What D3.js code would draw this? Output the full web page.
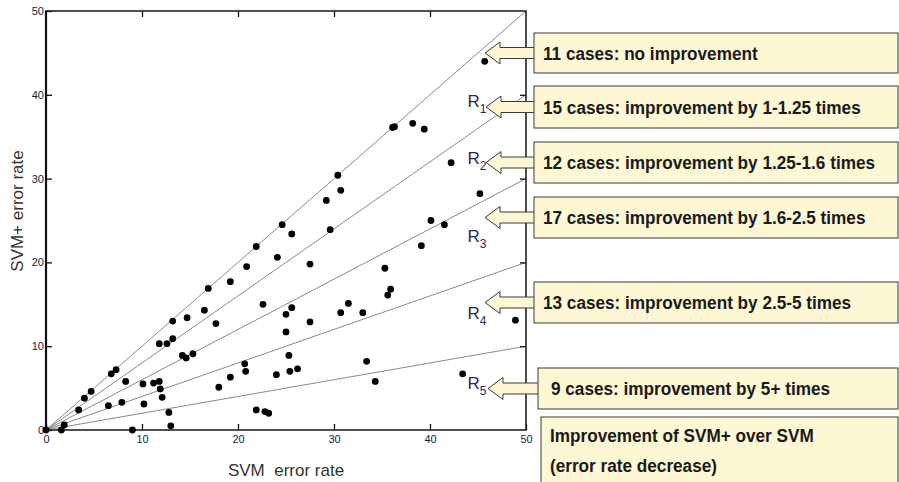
<!DOCTYPE html>
<html>
<head>
<meta charset="utf-8">
<script src="https://cdn.jsdelivr.net/npm/d3@7"></script>
<style>
  body { margin: 0; background: #fff; }
  svg { display: block; }
</style>
</head>
<body>
<div id="chart-area"></div>
<script>
// error rates per data set (SVM on x, SVM+ on y)
const svmErr = [0, 1.6, 1.9, 3.4, 4.0, 4.7, 6.5, 6.8, 7.3, 7.9, 8.3, 9.0, 10.1, 10.2, 11.2, 11.8, 11.9, 12.1,
  11.8, 12.6, 13.2, 13.2, 12.8, 13.0, 14.2, 14.6, 14.7, 15.3, 16.9, 16.5, 17.7, 19.2, 20.9, 21.9, 24.1, 24.6,
  25.6, 27.5, 29.2, 29.6, 30.4, 30.7, 22.6, 25.0, 25.6, 25.0, 27.5, 30.7, 31.5, 20.7, 20.8, 19.2, 18.0, 24.0,
  25.3, 25.4, 26.2, 21.9, 22.8, 23.2, 45.7, 36.1, 36.3, 38.2, 39.4, 42.2, 45.2, 40.1, 41.5, 39.1, 35.3, 35.9,
  35.6, 33.0, 48.9, 33.4, 34.3, 43.4];
const svmPlusErr = [0, 0, 0.6, 2.4, 3.8, 4.6, 2.9, 6.7, 7.2, 3.3, 5.8, 0, 5.5, 3.1, 5.6, 5.8, 4.9, 3.9,
  10.3, 10.3, 10.9, 13.0, 2.1, 0.5, 8.9, 8.6, 13.4, 9.1, 16.9, 14.3, 12.7, 17.7, 19.5, 21.9, 20.6, 24.5,
  23.4, 19.8, 27.4, 23.9, 30.4, 28.6, 15.0, 13.8, 14.6, 11.7, 12.9, 14.0, 15.1, 7.9, 7.0, 6.3, 5.1, 6.6,
  8.9, 7.0, 7.3, 2.4, 2.2, 2.0, 44.0, 36.1, 36.2, 36.6, 35.9, 31.9, 28.2, 25.0, 24.5, 22.0, 19.3, 16.8,
  16.1, 14.0, 13.1, 8.2, 5.8, 6.7];

// boundary lines from the origin, value reached at x = 50
const boundaryEnds = [50, 40, 30, 20, 10];
const regionNames = ['1', '2', '3', '4', '5'];
const regionLabelPos = [[43.9, 38.5], [43.9, 31.8], [43.9, 22.4], [43.9, 13.2], [43.9, 4.9]];

const axisTicks = [0, 10, 20, 30, 40, 50];

const callouts = [
  '11 cases: no improvement',
  '15 cases: improvement by 1-1.25 times',
  '12 cases: improvement by 1.25-1.6 times',
  '17 cases: improvement by 1.6-2.5 times',
  '13 cases: improvement by 2.5-5 times',
  '9 cases: improvement by 5+ times'
];
const summaryLines = ['Improvement of SVM+ over SVM', '(error rate decrease)'];

const margins = { left: 46, top: 11, right: 373, bottom: 52 };
const W = 899, H = 482;
const width = W - margins.left - margins.right;
const height = H - margins.top - margins.bottom;

const svg = d3.select('#chart-area')
  .append('svg')
  .attr('width', W)
  .attr('height', H);

const g = svg.append('g')
  .attr('transform', 'translate(' + margins.left + ', ' + margins.top + ')');

const x = d3.scaleLinear().domain([0, 50]).range([0, width]);
const y = d3.scaleLinear().domain([0, 50]).range([height, 0]);

// boundary lines
g.selectAll('.bound')
  .data(boundaryEnds)
  .enter().append('line')
  .attr('class', 'bound')
  .attr('x1', x(0)).attr('y1', y(0))
  .attr('x2', x(50)).attr('y2', (d) => y(d))
  .attr('stroke', '#8a8a8a')
  .attr('stroke-width', 1);

// axes (ticks pointing inward)
const tickStyle = (sel) => {
  sel.select('.domain').remove();
  sel.selectAll('.tick line').attr('stroke', '#111').attr('stroke-width', 1.3);
  sel.selectAll('.tick text')
    .attr('fill', '#1c1c3a')
    .attr('font-family', 'Liberation Sans, Arial, sans-serif')
    .attr('font-size', '11px');
};

g.append('g')
  .attr('transform', 'translate(0, ' + height + ')')
  .call(d3.axisBottom(x).tickValues(axisTicks).tickSize(-6).tickPadding(5))
  .call(tickStyle)
  .call((s) => s.selectAll('.tick text').attr('dy', '0.9em').attr('y', 3));

g.append('g')
  .call(d3.axisLeft(y).tickValues(axisTicks).tickSize(-6).tickPadding(2))
  .call(tickStyle)
  .call((s) => s.selectAll('.tick text').attr('x', -2));

g.append('g')
  .call(d3.axisTop(x).tickValues(axisTicks.slice(1, 5)).tickSize(-6).tickFormat(''))
  .call(tickStyle);

g.append('g')
  .attr('transform', 'translate(' + width + ', 0)')
  .call(d3.axisRight(y).tickValues(axisTicks.slice(1, 5)).tickSize(-6).tickFormat(''))
  .call(tickStyle);

// frame
g.append('rect')
  .attr('x', 0).attr('y', 0)
  .attr('width', width).attr('height', height)
  .attr('fill', 'none')
  .attr('stroke', '#222')
  .attr('stroke-width', 1.6);
g.append('line')
  .attr('x1', 0).attr('y1', 0).attr('x2', 0).attr('y2', height)
  .attr('stroke', '#111').attr('stroke-width', 2.2);

// points
g.selectAll('circle')
  .data(svmErr.map((d, i) => [d, svmPlusErr[i]]))
  .enter().append('circle')
  .attr('cx', (d) => x(d[0]))
  .attr('cy', (d) => y(d[1]))
  .attr('r', 3.4)
  .attr('fill', '#000');

// region labels R1..R5
const rl = g.selectAll('.rlab')
  .data(regionNames)
  .enter().append('text')
  .attr('class', 'rlab')
  .attr('x', (d, i) => x(regionLabelPos[i][0]))
  .attr('y', (d, i) => y(regionLabelPos[i][1]))
  .attr('font-family', 'Liberation Sans, Arial, sans-serif')
  .attr('fill', '#2a2a55');
rl.append('tspan').attr('font-size', '17px').text('R');
rl.append('tspan').attr('font-size', '12px').attr('dy', 6).text((d) => d);

// axis titles
svg.append('text')
  .attr('x', 286)
  .attr('y', 476)
  .attr('text-anchor', 'middle')
  .attr('font-family', 'Liberation Sans, Arial, sans-serif')
  .attr('font-size', '17px')
  .attr('fill', '#333')
  .style('white-space', 'pre')
  .text('SVM  error rate');

svg.append('text')
  .attr('transform', 'translate(23, 211) rotate(-90)')
  .attr('text-anchor', 'middle')
  .attr('font-family', 'Liberation Sans, Arial, sans-serif')
  .attr('font-size', '17px')
  .attr('fill', '#333')
  .text('SVM+ error rate');

// callout boxes with arrows
const boxes = [
  { x0: 534, y0: 33, y1: 73, tip: 485 },
  { x0: 534, y0: 86, y1: 128, tip: 486 },
  { x0: 534, y0: 142, y1: 183, tip: 486 },
  { x0: 534, y0: 197, y1: 238, tip: 485 },
  { x0: 534, y0: 282, y1: 323, tip: 485 },
  { x0: 538, y0: 368, y1: 409, tip: 488 }
];
const boxFill = '#fdf7d3';
const boxStroke = '#3a3a3a';
const fontBox = 'Liberation Sans, Arial, sans-serif';

// the original uses a narrow bold face; squeeze a regular one to the same width
const probe = svg.append('text')
  .attr('font-family', fontBox).attr('font-weight', 'bold').attr('font-size', '18px')
  .text(callouts[1]);
const squeeze = 318 / probe.node().getComputedTextLength();
probe.remove();

const boxText = (tx, ty, str) => {
  svg.append('text')
    .attr('transform', 'translate(' + tx + ',' + ty + ') scale(' + squeeze + ',1)')
    .attr('font-family', fontBox)
    .attr('font-weight', 'bold')
    .attr('font-size', '18px')
    .attr('fill', '#1a1a1a')
    .text(str);
};

boxes.forEach((b, i) => {
  const cy = (b.y0 + b.y1) / 2;
  const p = d3.path();
  p.moveTo(b.tip, cy);
  p.lineTo(b.tip + 15, cy - 11);
  p.lineTo(b.tip + 15, cy - 5.5);
  p.lineTo(b.x0 + 1, cy - 5.5);
  p.lineTo(b.x0 + 1, cy + 5.5);
  p.lineTo(b.tip + 15, cy + 5.5);
  p.lineTo(b.tip + 15, cy + 11);
  p.closePath();
  svg.append('path')
    .attr('d', p.toString())
    .attr('fill', boxFill)
    .attr('stroke', boxStroke)
    .attr('stroke-width', 1);
  svg.append('rect')
    .attr('x', b.x0).attr('y', b.y0)
    .attr('width', 898 - b.x0).attr('height', b.y1 - b.y0)
    .attr('fill', boxFill)
    .attr('stroke', boxStroke)
    .attr('stroke-width', 1);
  boxText(b.x0 + 9 + (i === 5 ? 4 : 0), cy + 6.5, callouts[i]);
});

svg.append('rect')
  .attr('x', 541).attr('y', 417)
  .attr('width', 357).attr('height', 70)
  .attr('fill', boxFill)
  .attr('stroke', boxStroke)
  .attr('stroke-width', 1);
summaryLines.forEach((d, i) => boxText(550, 442 + i * 30, d));
</script>
</body>
</html>
